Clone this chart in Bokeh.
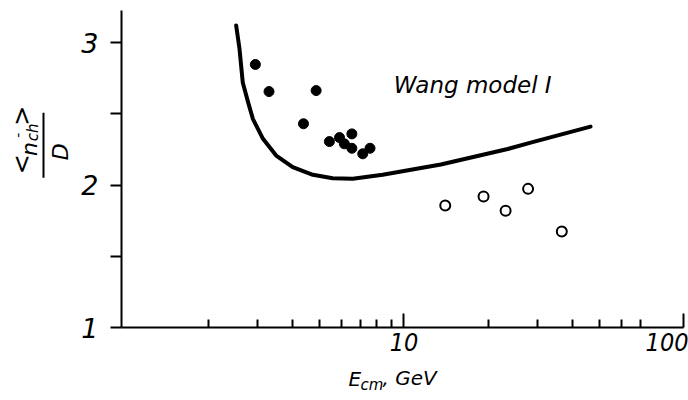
import math

from bokeh.core.properties import value
from bokeh.embed import file_html
from bokeh.layouts import column, row
from bokeh.models import (BasicTickFormatter, FixedTicker, LinearAxis, LogAxis,
                          Range1d)
from bokeh.plotting import figure
from bokeh.resources import INLINE

# Wang model I prediction: <n_ch>/D versus centre-of-mass energy
model_energy = [2.51, 2.58, 2.65, 2.77, 2.88, 3.13, 3.49, 4.00, 4.72, 5.56,
                6.56, 8.39, 11.5, 13.55, 23.5, 28.4, 46.5]
model_ratio = [3.12, 2.956, 2.72, 2.58, 2.465, 2.324, 2.207, 2.125, 2.072, 2.048,
               2.044, 2.072, 2.12, 2.144, 2.253, 2.298, 2.41]

# measurements, filled points
low_energy = [2.94, 3.29, 4.85, 4.37, 5.41, 5.88, 6.51, 6.12, 6.51, 7.12, 7.56]
low_ratio = [2.846, 2.656, 2.663, 2.43, 2.305, 2.333, 2.359, 2.289, 2.258, 2.219, 2.258]

# measurements, open points
high_energy = [14.05, 19.26, 23.1, 27.8, 36.7]
high_ratio = [1.856, 1.919, 1.82, 1.973, 1.674]

# axis ticks
x_major_ticks = [10, 100]
x_minor_ticks = [2, 3, 4, 5, 6, 7, 8, 9, 20, 30, 40, 50, 60, 70]
y_major_ticks = [1, 2, 3]
y_minor_ticks = [1.5, 2.5]

SANS = "DejaVu Sans"
NARROW = "DejaVu Sans Condensed, DejaVu Sans"

TOP_H = 366      # height of the plot row
LEFT_W = 78      # width of the strip carrying the y title
TOTAL_W = 688
TOTAL_H = 400

# ---- main plot -------------------------------------------------------------
p = figure(width=TOTAL_W - LEFT_W, height=TOP_H, x_axis_type="log",
           x_range=Range1d(0.976, 100), y_range=Range1d(1, 3.225),
           x_axis_location=None, y_axis_location=None,
           output_backend="svg", toolbar_location=None,
           min_border_left=120 - LEFT_W, min_border_right=5,
           min_border_top=10, min_border_bottom=TOP_H - 327)
p.outline_line_color = None
p.background_fill_color = "white"
p.border_fill_color = "white"
for g in p.grid:
    g.visible = False

xaxis = LogAxis(ticker=FixedTicker(ticks=x_major_ticks, minor_ticks=x_minor_ticks),
                formatter=BasicTickFormatter())
xaxis.axis_line_width = 2
xaxis.axis_line_color = "black"
xaxis.major_tick_in = 14
xaxis.major_tick_out = 0
xaxis.minor_tick_in = 8
xaxis.minor_tick_out = 0
xaxis.major_tick_line_width = 2
xaxis.minor_tick_line_width = 2
xaxis.major_label_text_font = NARROW
xaxis.major_label_text_font_style = "italic"
xaxis.major_label_text_font_size = "25px"
xaxis.major_label_text_color = "black"
xaxis.major_label_standoff = 5
p.add_layout(xaxis, "below")

yaxis = LinearAxis(ticker=FixedTicker(ticks=y_major_ticks, minor_ticks=y_minor_ticks))
yaxis.axis_line_width = 2
yaxis.axis_line_color = "black"
yaxis.major_tick_in = 0
yaxis.major_tick_out = 11
yaxis.minor_tick_in = 0
yaxis.minor_tick_out = 11
yaxis.major_tick_line_width = 2
yaxis.minor_tick_line_width = 2
yaxis.major_label_text_font = SANS
yaxis.major_label_text_font_style = "italic"
yaxis.major_label_text_font_size = "27px"
yaxis.major_label_text_color = "black"
yaxis.major_label_standoff = 12
p.add_layout(yaxis, "left")

# model curve and its caption
p.line(model_energy, model_ratio, line_width=4, line_color="black",
       line_join="round", line_cap="round")
p.text(x=[9.2], y=[2.70], text=["Wang model I"], text_font=value(SANS),
       text_font_style="italic", text_font_size="23px", text_color="black",
       text_baseline="middle")

# data points
p.scatter(low_energy, low_ratio, size=10, marker="circle",
          fill_color="black", line_color="black")
p.scatter(high_energy, high_ratio, size=10, marker="circle",
          fill_color="white", line_color="black", line_width=2)


def strip(width, height):
    """Bare figure in pixel coordinates for axis titles."""
    f = figure(width=width, height=height,
               x_range=Range1d(0, width), y_range=Range1d(0, height),
               x_axis_location=None, y_axis_location=None,
               output_backend="svg", toolbar_location=None,
               min_border=0)
    f.outline_line_color = None
    f.background_fill_color = "white"
    f.border_fill_color = "white"
    for g in f.grid:
        g.visible = False
    return f


def write(f, bottom, x, y, text, size, angle=0.0, align="left"):
    # (x, y) is the middle of the text line, y measured downward from the
    # top of the page; bottom is the page coordinate of the strip's lower edge
    f.text(x=[x], y=[bottom - y], text=[text], text_font=value(SANS),
           text_font_style="italic", text_font_size=size, text_color="black",
           angle=angle, text_align=align, text_baseline="middle")


# ---- y title: <n_ch^-> / D, written upward ----------------------------------
ytitle = strip(LEFT_W, TOP_H)
up = math.pi / 2
write(ytitle, TOP_H, 21, 189, "<", "24px", angle=up)
write(ytitle, TOP_H, 29, 168, "n", "22px", angle=up)
write(ytitle, TOP_H, 32, 151, "ch", "15px", angle=up)
write(ytitle, TOP_H, 17, 147, "-", "14px", angle=up)
write(ytitle, TOP_H, 21, 133, ">", "24px", angle=up)
write(ytitle, TOP_H, 60, 163, "D", "22px", angle=up, align="center")
ytitle.segment(x0=[43], y0=[TOP_H - 118], x1=[43], y1=[TOP_H - 193],
               line_width=2, line_color="black")

# ---- x title: E_cm, GeV -----------------------------------------------------
xtitle = strip(TOTAL_W, TOTAL_H - TOP_H)
write(xtitle, TOTAL_H, 348, 378, "E", "20px")
write(xtitle, TOTAL_H, 360, 384, "cm", "15px")
write(xtitle, TOTAL_H, 382, 377, ", GeV", "20px")

layout = column(row(ytitle, p, spacing=0), xtitle, spacing=0)

open("out.html", "w").write(file_html(layout, INLINE))
